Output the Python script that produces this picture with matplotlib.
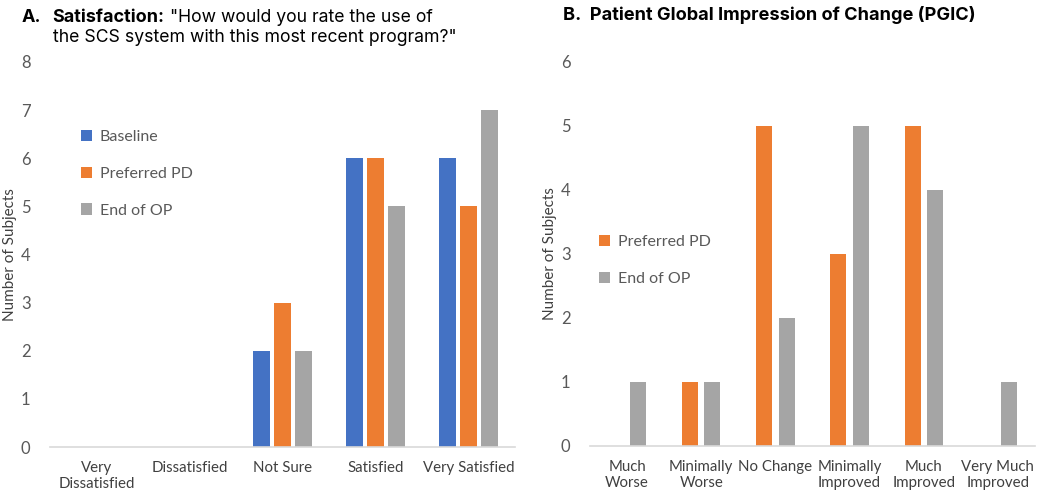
import matplotlib
matplotlib.use("Agg")
import matplotlib.pyplot as plt
import numpy as np

plt.rcParams['font.family'] = ['Lato', 'DejaVu Sans']

# Panel A data
sat_categories = ["Very\nDissatisfied", "Dissatisfied", "Not Sure", "Satisfied", "Very Satisfied"]
sat_baseline = [0, 0, 2, 6, 6]
sat_preferred = [0, 0, 3, 6, 5]
sat_end = [0, 0, 2, 5, 7]
sat_yticks = [0, 1, 2, 3, 4, 5, 6, 7, 8]

# Panel B data
pgic_categories = ["Much\nWorse", "Minimally\nWorse", "No Change", "Minimally\nImproved",
                   "Much\nImproved", "Very Much\nImproved"]
pgic_preferred = [0, 1, 5, 3, 5, 0]
pgic_end = [1, 1, 2, 5, 4, 1]
pgic_yticks = [0, 1, 2, 3, 4, 5, 6]

BLUE = "#4472C4"
ORANGE = "#ED7D31"
GRAY = "#A5A5A5"
TXT = "#595959"

fig = plt.figure(figsize=(10.4, 4.96), dpi=100)
W, H = 1040, 496

def style(ax, ymax, yticks, cats, label_x):
    ax.set_ylim(0, ymax)
    ax.set_yticks(yticks)
    ax.set_xticks(np.arange(len(cats)))
    ax.set_xticklabels(cats, fontsize=10.8, color="#404040", linespacing=1.2)
    ax.tick_params(axis='y', labelsize=12, colors=TXT, length=0, pad=14)
    ax.tick_params(axis='x', length=0, pad=10)
    for s in ['top', 'right', 'left']:
        ax.spines[s].set_visible(False)
    ax.spines['bottom'].set_color("#D9D9D9")
    ax.spines['bottom'].set_linewidth(1.2)
    ax.set_ylabel("Number of Subjects", fontsize=11, color="#404040")
    ax.yaxis.set_label_coords(label_x, 0.5)

# Panel A
axA = fig.add_axes([50 / W, (H - 447) / H, 465 / W, 385 / H])
x = np.arange(len(sat_categories))
bw = 0.185
off = 0.225
axA.bar(x - off, sat_baseline, bw, color=BLUE, label="Baseline")
axA.bar(x, sat_preferred, bw, color=ORANGE, label="Preferred PD")
axA.bar(x + off, sat_end, bw, color=GRAY, label="End of OP")
axA.set_xlim(-0.5, len(sat_categories) - 0.5)
style(axA, 8, sat_yticks, sat_categories, (17 - 50) / 465)
axA.legend(loc='upper left', bbox_to_anchor=(0.035, 0.86), frameon=False, fontsize=11.5,
           labelcolor=TXT, handlelength=0.7, handleheight=0.7, handletextpad=0.5,
           labelspacing=1.4)

# Panel B
axB = fig.add_axes([590 / W, (H - 446) / H, 445 / W, 384 / H])
x2 = np.arange(len(pgic_categories))
bw2 = 0.215
off2 = 0.15
axB.bar(x2 - off2, pgic_preferred, bw2, color=ORANGE, label="Preferred PD")
axB.bar(x2 + off2, pgic_end, bw2, color=GRAY, label="End of OP")
axB.set_xlim(-0.5, len(pgic_categories) - 0.5)
style(axB, 6, pgic_yticks, pgic_categories, (557 - 590) / 445)
axB.legend(loc='upper left', bbox_to_anchor=(-0.012, 0.587), frameon=False, fontsize=11.5,
           labelcolor=TXT, handlelength=0.7, handleheight=0.7, handletextpad=0.5,
           labelspacing=1.4)

# Titles
tf = ['Inter', 'DejaVu Sans']
fig.text(22 / W, 1 - 17 / H, "A.", fontsize=13, fontweight='bold', family=tf, va='center')
fig.text(52 / W, 1 - 17 / H, "Satisfaction:", fontsize=13, fontweight='bold', family=tf, va='center')
fig.text(170 / W, 1 - 17 / H, "\"How would you rate the use of", fontsize=12.7, family=tf, va='center')
fig.text(53 / W, 1 - 38 / H, "the SCS system with this most recent program?\"", fontsize=12.7, family=tf, va='center')
fig.text(563 / W, 1 - 15 / H, "B.  Patient Global Impression of Change (PGIC)", fontsize=13.1,
         fontweight='bold', family=tf, va='center')

fig.savefig("out.png", dpi=100)
